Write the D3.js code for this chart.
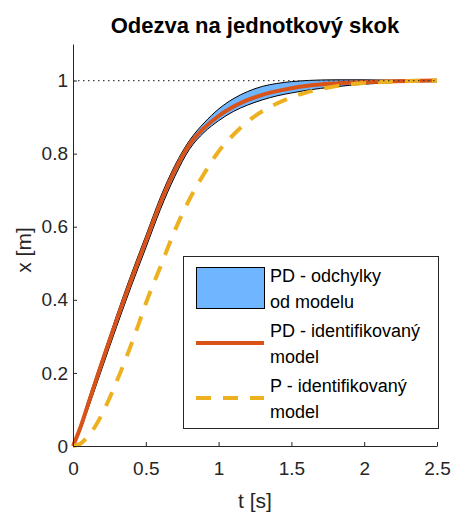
<!DOCTYPE html>
<html>
<head>
<meta charset="utf-8">
<script src="https://cdn.jsdelivr.net/npm/d3@7"></script>
<style>
  body { margin: 0; background: #fff; }
  svg { display: block; font-family: "Liberation Sans", Arial, sans-serif; }
  .axis text { fill: #262626; font-size: 19px; }
  .axis path, .axis line { stroke: #262626; }
</style>
</head>
<body>
<div id="chart"></div>
<script>
const width = 454;
const height = 514;
const margin = { top: 44, right: 17, bottom: 68, left: 73 };

// PD responses: identified model and the band of deviations around it
const tPD = [0, 0.05, 0.1, 0.2, 0.3, 0.4, 0.5, 0.6, 0.7, 0.8, 0.9, 1.0, 1.1, 1.2, 1.3, 1.4, 1.5, 1.6, 1.8, 2.0, 2.2, 2.5];
const pdModel = [0, 0.05, 0.11, 0.23, 0.345, 0.455, 0.56, 0.665, 0.755, 0.825, 0.87, 0.903, 0.928, 0.947, 0.961, 0.971, 0.979, 0.985, 0.992, 0.996, 0.998, 1.0];
const pdUpper = [0, 0.055, 0.12, 0.24, 0.358, 0.47, 0.575, 0.68, 0.768, 0.836, 0.884, 0.922, 0.95, 0.97, 0.984, 0.992, 0.997, 1.0, 1.002, 1.002, 1.001, 1.0];
const pdLower = [0, 0.042, 0.098, 0.213, 0.327, 0.437, 0.542, 0.647, 0.738, 0.812, 0.858, 0.89, 0.915, 0.933, 0.947, 0.958, 0.966, 0.973, 0.983, 0.99, 0.995, 0.999];

// P identified model
const tP = [0, 0.05, 0.1, 0.15, 0.2, 0.25, 0.3, 0.35, 0.4, 0.45, 0.5, 0.6, 0.7, 0.8, 0.9, 1.0, 1.1, 1.2, 1.3, 1.4, 1.5, 1.6, 1.8, 2.0, 2.2, 2.5];
const pModel = [0, 0.006, 0.025, 0.052, 0.088, 0.13, 0.177, 0.225, 0.278, 0.333, 0.39, 0.49, 0.59, 0.675, 0.745, 0.806, 0.851, 0.888, 0.916, 0.937, 0.954, 0.967, 0.984, 0.993, 0.997, 1.0];

const xTicks = [0, 0.5, 1, 1.5, 2, 2.5];
const yTicks = [0, 0.2, 0.4, 0.6, 0.8, 1];
const legendLabels = [
  ["PD - odchylky", "od modelu"],
  ["PD - identifikovaný", "model"],
  ["P - identifikovaný", "model"],
];

const blue = "#6fb5ff";
const orange = "#d95319";
const yellow = "#edb120";

const svg = d3.select("#chart").append("svg")
  .attr("width", width)
  .attr("height", height);

const x = d3.scaleLinear().domain([0, 2.5]).range([margin.left, width - margin.right]);
const y = d3.scaleLinear().domain([0, 1.1]).range([height - margin.bottom, margin.top]);

const pd = tPD.map((t, i) => ({ t, m: pdModel[i], hi: pdUpper[i], lo: pdLower[i] }));
const p = tP.map((t, i) => ({ t, v: pModel[i] }));

const curve = d3.curveMonotoneX;

// deviation band
svg.append("path")
  .datum(pd)
  .attr("fill", blue)
  .attr("stroke", "none")
  .attr("d", d3.area().curve(curve).x(d => x(d.t)).y0(d => y(d.lo)).y1(d => y(d.hi)));

["hi", "lo"].forEach(k => {
  svg.append("path")
    .datum(pd)
    .attr("fill", "none")
    .attr("stroke", "#000")
    .attr("stroke-width", 1)
    .attr("d", d3.line().curve(curve).x(d => x(d.t)).y(d => y(d[k])));
});

svg.append("path")
  .datum(pd)
  .attr("fill", "none")
  .attr("stroke", orange)
  .attr("stroke-width", 4)
  .attr("d", d3.line().curve(curve).x(d => x(d.t)).y(d => y(d.m)));

svg.append("path")
  .datum(p)
  .attr("fill", "none")
  .attr("stroke", yellow)
  .attr("stroke-width", 4)
  .attr("stroke-dasharray", "15,12")
  .attr("d", d3.line().curve(curve).x(d => x(d.t)).y(d => y(d.v)));

// reference level
svg.append("line")
  .attr("x1", x(0)).attr("x2", x(2.5))
  .attr("y1", y(1)).attr("y2", y(1))
  .attr("stroke", "#404040")
  .attr("stroke-width", 1.3)
  .attr("stroke-dasharray", "1.5,3.5");

// axes
svg.append("g")
  .attr("class", "axis")
  .attr("transform", `translate(0,${height - margin.bottom})`)
  .call(d3.axisBottom(x).tickValues(xTicks).tickFormat(d3.format("")).tickSizeInner(-4).tickSizeOuter(0).tickPadding(16));

const yAxis = svg.append("g")
  .attr("class", "axis")
  .attr("transform", `translate(${margin.left},0)`)
  .call(d3.axisLeft(y).tickValues(yTicks).tickFormat(d3.format("")).tickSizeInner(-4).tickSizeOuter(0).tickPadding(5));
yAxis.select(".domain").attr("stroke", "#808080");

// title and labels
svg.append("text")
  .attr("x", (x(0) + x(2.5)) / 2)
  .attr("y", 33)
  .attr("text-anchor", "middle")
  .attr("font-size", 22)
  .attr("font-weight", "bold")
  .attr("fill", "#000")
  .text("Odezva na jednotkový skok");

svg.append("text")
  .attr("x", (x(0) + x(2.5)) / 2)
  .attr("y", 508)
  .attr("text-anchor", "middle")
  .attr("font-size", 21)
  .attr("fill", "#262626")
  .text("t [s]");

svg.append("text")
  .attr("transform", `translate(31,250) rotate(-90)`)
  .attr("text-anchor", "middle")
  .attr("font-size", 21)
  .attr("fill", "#262626")
  .text("x [m]");

// legend
const lg = svg.append("g").attr("transform", "translate(183,256)");
lg.append("rect")
  .attr("x", 0.5).attr("y", 0.5)
  .attr("width", 255).attr("height", 172)
  .attr("fill", "#fff")
  .attr("stroke", "#262626")
  .attr("stroke-width", 1);

lg.append("rect")
  .attr("x", 13.5).attr("y", 11.5)
  .attr("width", 68).attr("height", 41)
  .attr("fill", blue)
  .attr("stroke", "#000");

lg.append("line")
  .attr("x1", 13).attr("x2", 81)
  .attr("y1", 87).attr("y2", 87)
  .attr("stroke", orange).attr("stroke-width", 4);

lg.append("line")
  .attr("x1", 13).attr("x2", 81)
  .attr("y1", 142).attr("y2", 142)
  .attr("stroke", yellow).attr("stroke-width", 4)
  .attr("stroke-dasharray", "15,12");

legendLabels.forEach((lines, i) => {
  lines.forEach((s, j) => {
    lg.append("text")
      .attr("x", 87)
      .attr("y", 26 + i * 55 + j * 26)
      .attr("font-size", 18)
      .attr("fill", "#000")
      .text(s);
  });
});
</script>
</body>
</html>
